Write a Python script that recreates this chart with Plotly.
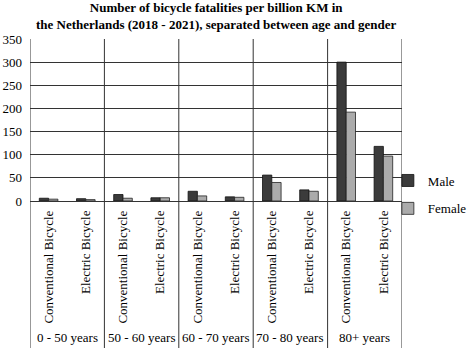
import plotly.graph_objects as go

# Age groups and bicycle types (two bars per age group)
age_groups = ["0 - 50 years", "50 - 60 years", "60 - 70 years", "70 - 80 years", "80+ years"]
bike_types = ["Conventional Bicycle", "Electric Bicycle"]

# Fatalities per billion km, ordered age group by age group, conventional then electric
male = [6, 5, 14, 7, 21, 9, 56, 24, 300, 118]
female = [4, 3, 6, 7, 11, 8, 40, 21, 192, 97]

y_ticks = [0, 50, 100, 150, 200, 250, 300, 350]

categories = [t for _ in age_groups for t in bike_types]
xpos = list(range(len(categories)))

FONT = "Liberation Serif, Times New Roman, serif"

fig = go.Figure()
fig.add_trace(go.Bar(
    x=xpos, y=male, name="Male", legendgroup="m",
    marker=dict(color="#3b3b3b", line=dict(color="#111111", width=0.8)),
))
fig.add_trace(go.Bar(
    x=xpos, y=female, name="Female", legendgroup="f",
    marker=dict(color="#ababab", line=dict(color="#222222", width=0.8)),
))

# Vertical separators between age groups, reaching down through the labels
n_groups = len(age_groups)
per = len(bike_types)
bottom = -147 / 162
for g in range(n_groups + 1):
    xb = g * per - 0.5
    fig.add_shape(type="line", xref="x", yref="paper",
                  x0=xb, x1=xb, y0=bottom, y1=1,
                  line=dict(color="#333333", width=1))

# Age group labels under the bicycle-type labels
for g, label in enumerate(age_groups):
    fig.add_annotation(x=g * per + (per - 1) / 2, xref="x",
                       y=bottom, yref="paper", yanchor="bottom", yshift=1,
                       text=label, showarrow=False,
                       font=dict(family=FONT, size=13, color="black"))

# Two-line bold title
fig.add_annotation(
    x=0.5, xref="paper", xanchor="center",
    y=1, yref="paper", yanchor="bottom", yshift=5,
    text="<b>Number of bicycle fatalities per billion KM in<br>the Netherlands (2018 - 2021), separated between age and gender</b>",
    showarrow=False, align="center",
    font=dict(family=FONT, size=13, color="black"),
)

fig.update_layout(
    width=469, height=348,
    margin=dict(l=30, r=67, t=39, b=147, autoexpand=False),
    paper_bgcolor="white", plot_bgcolor="white",
    barmode="group", bargap=0.5, bargroupgap=0,
    font=dict(family=FONT, size=13, color="black"),
    legend=dict(x=0.962, xanchor="left", y=0.04, yanchor="middle",
                font=dict(family=FONT, size=13, color="black"),
                tracegroupgap=8, bgcolor="rgba(0,0,0,0)"),
    showlegend=True,
)
fig.update_xaxes(
    range=[-0.5, len(categories) - 0.5], automargin=False,
    tickmode="array", tickvals=xpos, ticktext=categories,
    tickangle=-90, ticks="", showgrid=False, zeroline=False,
    showline=False, ticklabelstandoff=6,
    tickfont=dict(family=FONT, size=13, color="black"),
)
fig.update_yaxes(
    range=[0, 350], tickvals=y_ticks, ticks="", automargin=False,
    showgrid=True, gridcolor="#333333", gridwidth=1,
    zeroline=True, zerolinecolor="#333333", zerolinewidth=1,
    showline=False, ticklabelstandoff=7,
    tickfont=dict(family=FONT, size=13, color="black"),
)

fig.write_html("out.html")
